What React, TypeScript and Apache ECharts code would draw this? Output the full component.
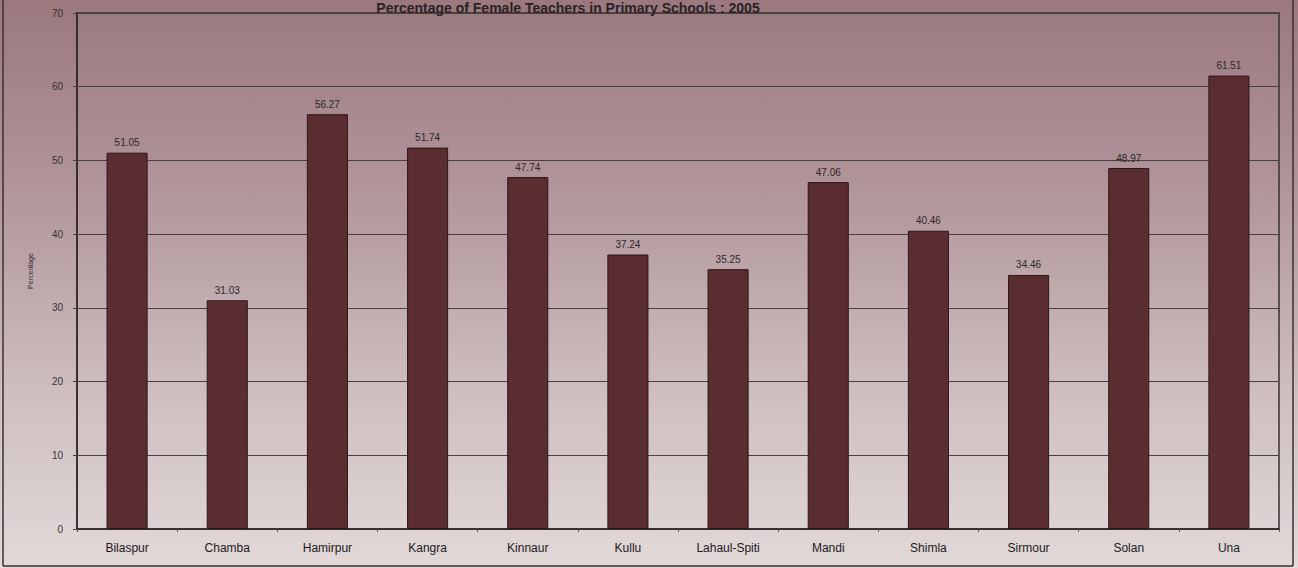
import React, { useEffect, useRef } from "react";
import * as echarts from "echarts";

const categories = [
  "Bilaspur", "Chamba", "Hamirpur", "Kangra", "Kinnaur", "Kullu",
  "Lahaul-Spiti", "Mandi", "Shimla", "Sirmour", "Solan", "Una",
];
const values = [51.05, 31.03, 56.27, 51.74, 47.74, 37.24, 35.25, 47.06, 40.46, 34.46, 48.97, 61.51];
const titleText = "Percentage of Female Teachers in Primary Schools : 2005";
const yAxisName = "Percentage";

export default function App() {
  const ref = useRef<HTMLDivElement>(null);
  useEffect(() => {
    if (!ref.current) return;
    const chart = echarts.init(ref.current, null, { renderer: "svg" });
    chart.setOption({
      animation: false,
      backgroundColor: {
        type: "linear", x: 0, y: 0, x2: 0, y2: 1,
        colorStops: [
          { offset: 0, color: "#9a787e" },
          { offset: 0.35, color: "#b2979c" },
          { offset: 0.7, color: "#cfbfc1" },
          { offset: 1, color: "#e2d9d9" },
        ],
      },
      title: {
        text: titleText,
        left: 568,
        textAlign: "center",
        top: 0,
        padding: 0,
        textStyle: { fontFamily: "Arial, Liberation Sans", fontSize: 14, fontWeight: "bold", color: "#2a2224", lineHeight: 16 },
      },
      grid: { left: 77, right: 19, top: 13, bottom: 39, show: true, borderColor: "#3a3032", borderWidth: 1.5, backgroundColor: "transparent" },
      xAxis: {
        type: "category",
        data: categories,
        axisLine: { lineStyle: { color: "#2e2628", width: 1.5 } },
        axisTick: { show: true, length: 3, lineStyle: { color: "#555" } },
        axisLabel: { fontFamily: "Arial, Liberation Sans", fontSize: 12, color: "#1e1a1b", margin: 13 },
      },
      yAxis: {
        type: "value",
        min: 0,
        max: 70,
        interval: 10,
        name: yAxisName,
        nameLocation: "middle",
        nameGap: 43,
        nameTextStyle: { fontFamily: "Arial, Liberation Sans", fontSize: 7, color: "#2e2628" },
        axisLine: { show: true, lineStyle: { color: "#2e2628", width: 1.5 } },
        axisTick: { show: true, length: 4, lineStyle: { color: "#444" } },
        axisLabel: { fontFamily: "Arial, Liberation Sans", fontSize: 10, color: "#3a3234", margin: 14 },
        splitLine: { lineStyle: { color: "#4a4042", width: 1 } },
      },
      series: [
        {
          type: "bar",
          data: values,
          barWidth: "41%",
          itemStyle: { color: "#5a2d31", borderColor: "#2e1618", borderWidth: 1 },
          label: {
            show: true,
            position: "top",
            distance: 5,
            formatter: (p: any) => p.value.toFixed(2),
            fontFamily: "Arial, Liberation Sans",
            fontSize: 10,
            color: "#2e2628",
          },
        },
      ],
      graphic: [
        { type: "line", shape: { x1: 3, y1: 0, x2: 3, y2: 566 }, style: { stroke: "#3a3032", lineWidth: 1.5 } },
        { type: "line", shape: { x1: 1293, y1: 0, x2: 1293, y2: 566 }, style: { stroke: "#3a3032", lineWidth: 1.5 } },
        { type: "line", shape: { x1: 3, y1: 566, x2: 1293, y2: 566 }, style: { stroke: "#3a3032", lineWidth: 1.5 } },
      ],
    });
    return () => chart.dispose();
  }, []);
  return <div ref={ref} style={{ position: "fixed", left: 0, top: 0, width: 1298, height: 568 }} />;
}
